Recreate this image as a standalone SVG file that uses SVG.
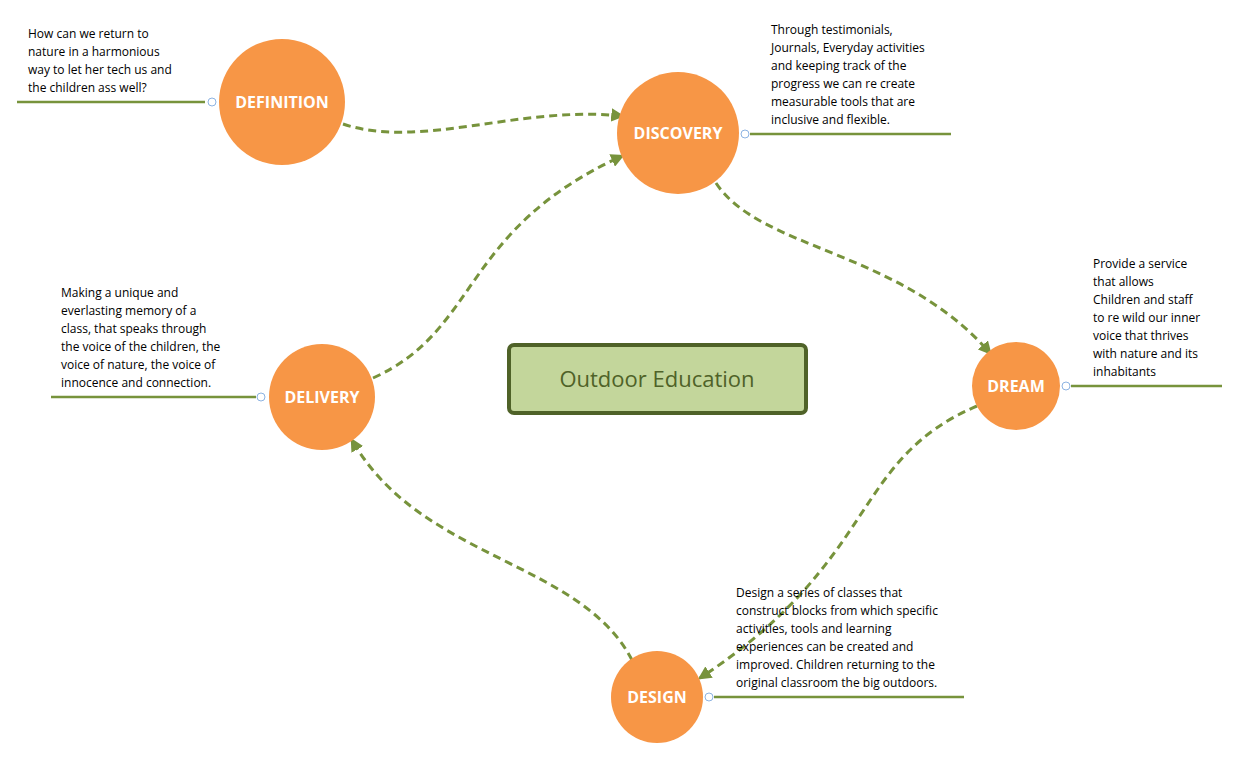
<svg xmlns="http://www.w3.org/2000/svg" width="1240" height="759" viewBox="0 0 1240 759">
<style>
.c{fill:#f79646}
.l{fill:#fff;font-family:"Open Sans","DejaVu Sans",sans-serif;font-size:16px;font-weight:bold;text-anchor:middle}
.t{fill:#000;font-family:"Open Sans","DejaVu Sans",sans-serif;font-size:12px}
.u{stroke:#77933c;stroke-width:2.5}
.k{fill:#fff;stroke:#8db3e2;stroke-width:1}
.e{fill:none;stroke:#77933c;stroke-width:3;stroke-dasharray:8 5;marker-end:url(#a)}
</style>
<defs><marker id="a" viewBox="0 0 10 10" refX="8" refY="5" markerWidth="4.5" markerHeight="4.5" orient="auto"><path d="M0,0L10,5L0,10z" fill="#77933c"/></marker></defs>
<rect width="1240" height="759" fill="#fff"/>
<g id="connectors">
<path class="e" d="M343,124 C420,150 520,105 622,116"/>
<path class="e" d="M716,183 C760,250 900,250 990,353"/>
<path class="e" d="M977,406 C850,460 880,560 700,678"/>
<path class="e" d="M632,660 C580,560 420,560 352,440"/>
<path class="e" d="M373,378 C480,330 460,230 622,156"/>
</g>
<g id="center"><rect x="509" y="345" width="297" height="68" rx="5" fill="#c3d69b" stroke="#4f6228" stroke-width="4"/><text x="657" y="387" text-anchor="middle" font-family="'Open Sans',sans-serif" font-size="22" fill="#4f6228">Outdoor Education</text></g>
<g id="definition"><line class="u" x1="17" y1="102" x2="205" y2="102"/><circle class="k" cx="212" cy="102" r="4"/><circle class="c" cx="282" cy="102" r="63"/><text class="l" x="282" y="108">DEFINITION</text>
<text class="t"><tspan x="28" y="38">How can we return to</tspan><tspan x="28" y="56">nature in a harmonious</tspan><tspan x="28" y="74">way to let her tech us and</tspan><tspan x="28" y="92">the children ass well?</tspan></text></g>
<g id="discovery"><line class="u" x1="750" y1="134" x2="951" y2="134"/><circle class="k" cx="745" cy="134" r="4"/><circle class="c" cx="678" cy="133" r="61"/><text class="l" x="678" y="139">DISCOVERY</text>
<text class="t"><tspan x="771" y="34">Through testimonials,</tspan><tspan x="771" y="52">Journals, Everyday activities</tspan><tspan x="771" y="70">and keeping track of the</tspan><tspan x="771" y="88">progress we can re create</tspan><tspan x="771" y="106">measurable tools that are</tspan><tspan x="771" y="124">inclusive and flexible.</tspan></text></g>
<g id="dream"><line class="u" x1="1071" y1="386" x2="1222" y2="386"/><circle class="k" cx="1066" cy="386" r="4"/><circle class="c" cx="1016" cy="386" r="44"/><text class="l" x="1016" y="392">DREAM</text>
<text class="t"><tspan x="1093" y="268">Provide a service</tspan><tspan x="1093" y="286">that allows</tspan><tspan x="1093" y="304">Children and staff</tspan><tspan x="1093" y="322">to re wild our inner</tspan><tspan x="1093" y="340">voice that thrives</tspan><tspan x="1093" y="358">with nature and its</tspan><tspan x="1093" y="376">inhabitants</tspan></text></g>
<g id="delivery"><line class="u" x1="51" y1="397" x2="256" y2="397"/><circle class="k" cx="261" cy="397" r="4"/><circle class="c" cx="322" cy="397" r="53"/><text class="l" x="322" y="403">DELIVERY</text>
<text class="t"><tspan x="61" y="297">Making a unique and</tspan><tspan x="61" y="315">everlasting memory of a</tspan><tspan x="61" y="333">class, that speaks through</tspan><tspan x="61" y="351">the voice of the children, the</tspan><tspan x="61" y="369">voice of nature, the voice of</tspan><tspan x="61" y="387">innocence and connection.</tspan></text></g>
<g id="design"><line class="u" x1="714" y1="697" x2="964" y2="697"/><circle class="k" cx="709" cy="697" r="4"/><circle class="c" cx="657" cy="697" r="46"/><text class="l" x="657" y="703">DESIGN</text>
<text class="t"><tspan x="736" y="597">Design a series of classes that</tspan><tspan x="736" y="615">construct blocks from which specific</tspan><tspan x="736" y="633">activities, tools and learning</tspan><tspan x="736" y="651">experiences can be created and</tspan><tspan x="736" y="669">improved. Children returning to the</tspan><tspan x="736" y="687">original classroom the big outdoors.</tspan></text></g>
</svg>
